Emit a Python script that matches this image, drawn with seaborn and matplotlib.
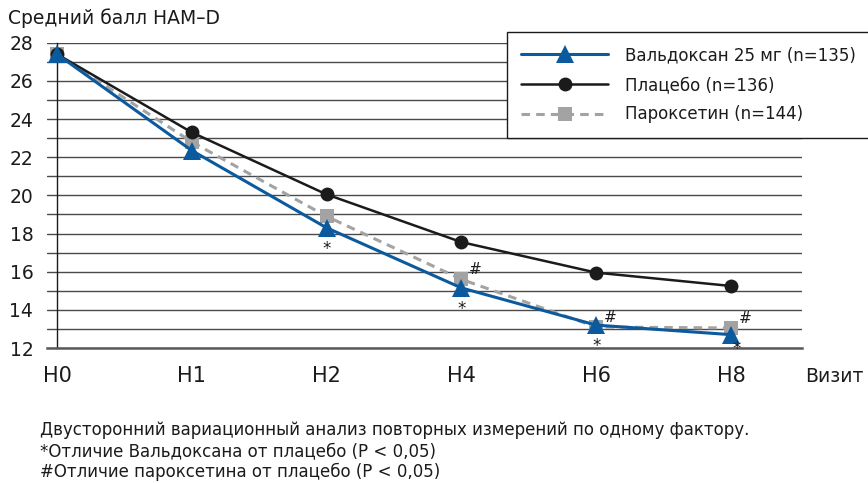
import numpy as np
import seaborn as sns
import matplotlib.pyplot as plt
from matplotlib.ticker import MultipleLocator

# visit labels and mean HAM-D scores
visits = ['H0', 'H1', 'H2', 'H4', 'H6', 'H8']
valdoxan = [27.4, 22.35, 18.3, 15.15, 13.2, 12.7]
placebo = [27.4, 23.3, 20.05, 17.55, 15.95, 15.25]
paroxetine = [27.4, 22.8, 18.9, 15.6, 13.1, 13.05]

# markers for significance vs placebo
star_idx = [2, 3, 4, 5]
hash_idx = [3, 4, 5]

labels = ['Вальдоксан 25 мг (n=135)', 'Плацебо (n=136)', 'Пароксетин (n=144)']
notes = ['Двусторонний вариационный анализ повторных измерений по одному фактору.',
         '*Отличие Вальдоксана от плацебо (P < 0,05)',
         '#Отличие пароксетина от плацебо (P < 0,05)']

sns.set_theme(style='white')
plt.rcParams['font.family'] = ['DejaVu Sans']

blue = '#0b5a9e'
black = '#1b1b1b'
grey = '#a3a3a3'

fig = plt.figure(figsize=(8.68, 4.83), dpi=100)
ax = fig.add_axes([47 / 868, 1 - 348 / 483, 755 / 868, 305.3 / 483])

x = np.arange(len(visits))
sns.lineplot(x=x, y=paroxetine, ax=ax, color=grey, lw=2.2, linestyle=(0, (2.8, 2.0)),
             marker='s', markersize=9.5, mec=grey, mew=0, label=labels[2], zorder=3)
sns.lineplot(x=x, y=placebo, ax=ax, color=black, lw=1.8,
             marker='o', markersize=10, mec=black, mew=0, label=labels[1], zorder=4)
sns.lineplot(x=x, y=valdoxan, ax=ax, color=blue, lw=2.2,
             marker='^', markersize=13, mec=blue, mew=0, label=labels[0], zorder=5)

for i in star_idx:
    dx = 4 if i == len(visits) - 1 else 0
    dy = -10 if i == len(visits) - 1 else -15
    ax.annotate('*', (x[i], valdoxan[i]), xytext=(dx, dy), textcoords='offset points',
                ha='center', va='center', fontsize=12, color=black, zorder=6)
for i in hash_idx:
    ax.annotate('#', (x[i], paroxetine[i]), xytext=(10, 7), textcoords='offset points',
                ha='center', va='center', fontsize=11, style='italic', color=black, zorder=6)

ax.set_xlim(-0.074, 5.527)
ax.set_ylim(12, 28)
ax.set_xticks(x)
ax.set_xticklabels(visits)
ax.yaxis.set_major_locator(MultipleLocator(2))
ax.yaxis.set_minor_locator(MultipleLocator(1))
ax.yaxis.grid(True, which='both', color='#4a4a4a', lw=1.0)
ax.set_axisbelow(True)

for s in ['top', 'right']:
    ax.spines[s].set_visible(False)
ax.spines['left'].set_position(('data', 0))
ax.spines['left'].set_color(black)
ax.spines['left'].set_linewidth(1.0)
ax.spines['bottom'].set_color('#5a5a5a')
ax.spines['bottom'].set_linewidth(1.8)

ax.tick_params(axis='y', which='both', length=0, pad=17, labelsize=13.5, labelcolor=black)
ax.tick_params(axis='x', length=6, width=1.2, color='#5a5a5a', direction='out',
               pad=7, labelsize=15, labelcolor=black)
ax.set_xlabel('')
ax.set_ylabel('')

handles, labs = ax.get_legend_handles_labels()
ax.get_legend().remove()
order = [labs.index(l) for l in labels]
leg = fig.legend([handles[k] for k in order], labels, loc='upper left',
                 bbox_to_anchor=(507 / 868, 1 - 32 / 483, 0.45, 0), mode='expand',
                 borderaxespad=0, fontsize=12, frameon=True, fancybox=False,
                 handlelength=5.2, handletextpad=1.0, labelspacing=0.7, borderpad=0.85)
leg.get_frame().set_edgecolor(black)
leg.get_frame().set_linewidth(1.0)
leg.get_frame().set_facecolor('white')
leg.get_frame().set_alpha(1)
for t in leg.get_texts():
    t.set_color(black)

fig.text(8 / 868, 1 - 18 / 483, 'Средний балл HAM–D', fontsize=13.5, va='center', color=black)
fig.text(805 / 868, 1 - 377 / 483, 'Визит', fontsize=13.5, va='center', color=black)
for k, note in enumerate(notes):
    fig.text(40 / 868, 1 - (430 + 21 * k) / 483, note, fontsize=12, va='center', color=black)

fig.savefig('out.png', dpi=100)
